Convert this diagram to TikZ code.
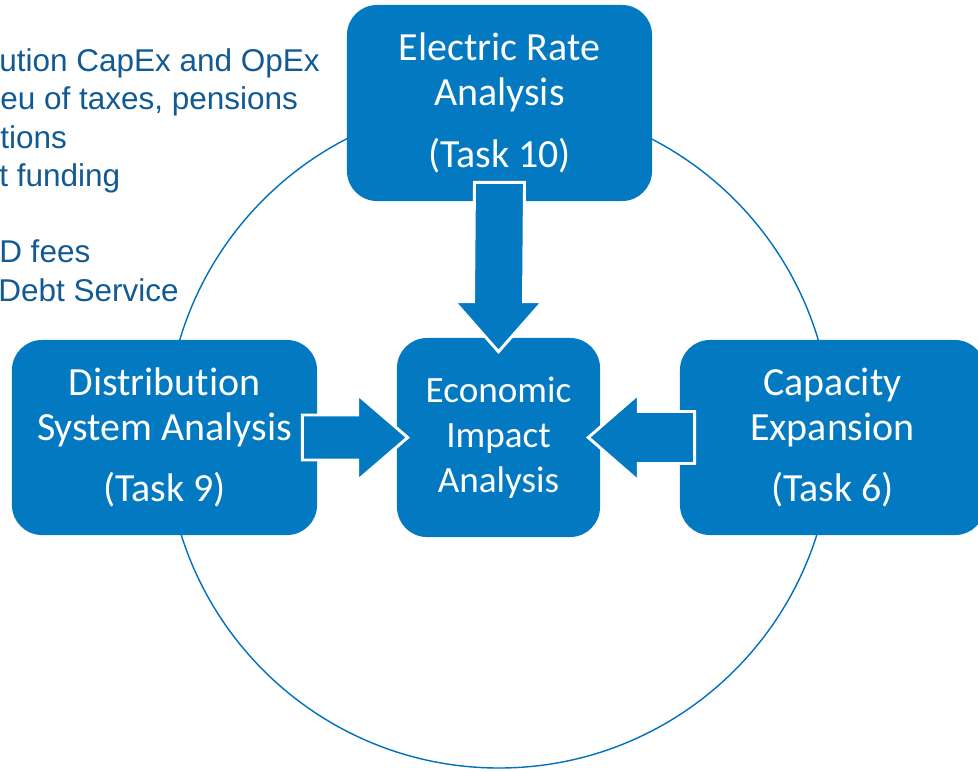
\documentclass[tikz,border=0pt]{standalone}
\usepackage{fontspec}
\usepackage{tikz}
\usetikzlibrary{calc}
\usepackage{xcolor}

\newfontfamily\boxfont[Ligatures=NoCommon]{Carlito}
\newfontfamily\notefont{Liberation Sans}

\definecolor{taskblue}{RGB}{2,121,193}
\definecolor{ringblue}{RGB}{0,112,192}
\definecolor{notetext}{RGB}{18,90,145}

\tikzset{
  taskbox/.style={fill=taskblue, rounded corners=0.75cm, text=white, align=center,
    inner sep=0pt, minimum width=7.625cm, minimum height=4.875cm,
    font=\boxfont\fontsize{28.4}{31.8}\selectfont},
  blockarrow/.style={fill=taskblue, draw=white, line width=2.1pt, line join=miter},
  ring/.style={draw=ringblue, line width=1pt},
  note/.style={anchor=base west, inner sep=0pt, text=notetext,
    font=\notefont\fontsize{22.4}{27}\selectfont}
}

\begin{document}
\begin{tikzpicture}[x=0.025cm, y=-0.025cm]
    \useasboundingbox (0,0) rectangle (978,771);
    \clip (0,0) rectangle (978,771);

    % Notes at the left (cut by the page edge)
    \foreach \i/\txt/\dx/\base in {
      1/{ution CapEx and OpEx}/-1/71,
      2/{eu of taxes, pensions}/0/109,
      3/{tions}/0/148,
      4/{t funding}/-1/186,
      5/{D fees}/-1/262,
      6/{Debt Service}/-2/301}
      {
      \node[note] (note\i) at (\dx,\base) {\txt};
    }

    % Ring behind the boxes
    \draw[ring] (499,435) circle (333);

    % Boxes
    \node[taskbox, minimum height=4.9cm] (rate) at (499.5,103)
      {Electric Rate\\Analysis\\[12pt](Task 10)};
    \node[taskbox] (dist) at (164.5,437.5)
      {Distribution\\System Analysis\\[12pt](Task 9)};
    \node[taskbox] (cap) at (832.5,437.5)
      {Capacity\\Expansion\\[12pt](Task 6)};
    \node[taskbox, minimum width=5.075cm, minimum height=4.975cm,
      font=\boxfont\fontsize{26.4}{32}\selectfont] (impact) at (498.5,437.5)
      {Economic\\Impact\\Analysis};

    % Block arrows into the middle box
    \coordinate (dtail) at ($(rate.south)+(0,-19)$);
    \coordinate (dtip) at ($(impact.north)+(0,14)$);
    \draw[blockarrow] (dtail) ++(-25,0) -- ++(50,0) -- ($(dtip)+(25,-50)$)
      -- ++(19,0) -- (dtip) -- ++(-44,-50) -- ++(19,0) -- cycle;

    \coordinate (rtail) at ($(dist.east)+(-15,0)$);
    \coordinate (rtip) at ($(impact.west)+(11,0)$);
    \draw[blockarrow] (rtail) ++(0,-22.5) -- ($(rtip)+(-50,-22.5)$)
      -- ++(0,-20.5) -- (rtip) -- ++(-50,43) -- ++(0,-20.5) -- ($(rtail)+(0,22.5)$) -- cycle;

    \coordinate (ltail) at ($(cap.west)+(15,0)$);
    \coordinate (ltip) at ($(impact.east)+(-12,0)$);
    \draw[blockarrow] (ltail) ++(0,-26) -- ($(ltip)+(50,-26)$)
      -- ++(0,-17.5) -- (ltip) -- ++(50,43.5) -- ++(0,-17.5) -- ($(ltail)+(0,26)$) -- cycle;
\end{tikzpicture}
\end{document}
